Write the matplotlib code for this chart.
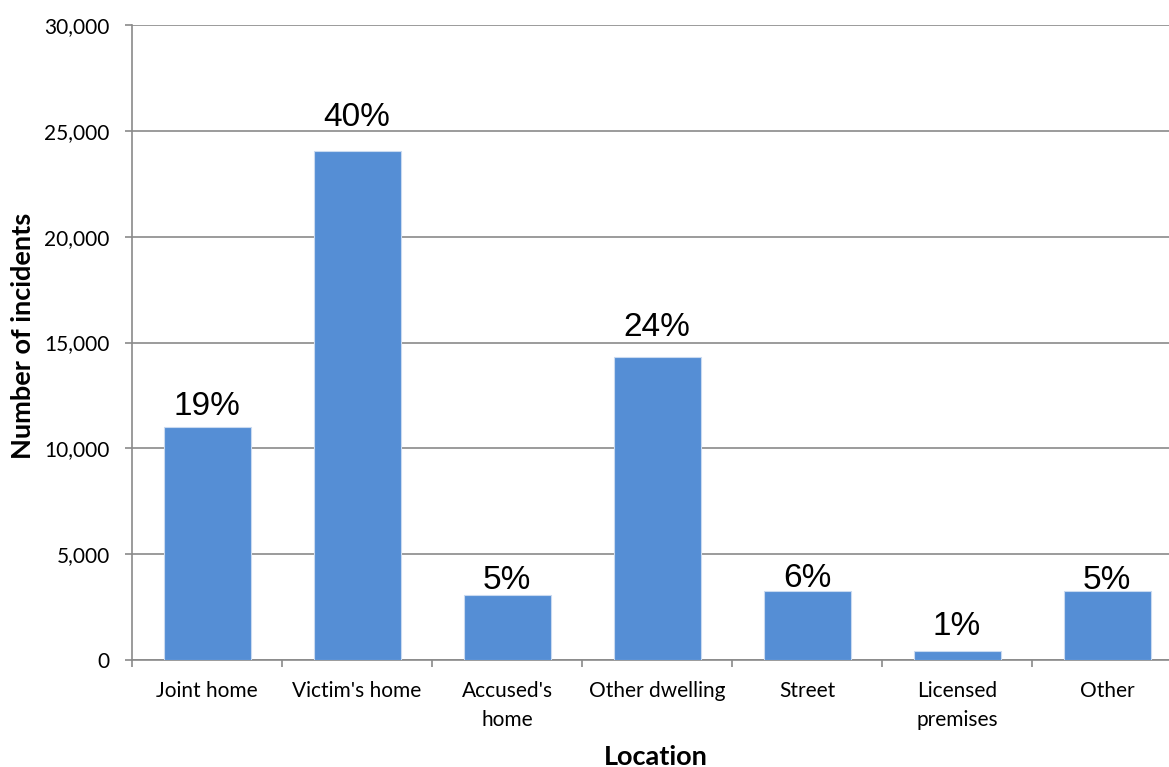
import matplotlib
matplotlib.use("Agg")
import matplotlib.pyplot as plt
from matplotlib.ticker import FuncFormatter, FixedLocator

# Incidents by location
locations = ["Joint home", "Victim's home", "Accused's\nhome", "Other dwelling",
             "Street", "Licensed\npremises", "Other"]
incidents = [11000, 24050, 3050, 14300, 3280, 430, 3260]
share_labels = ["19%", "40%", "5%", "24%", "6%", "1%", "5%"]
y_ticks = [0, 5000, 10000, 15000, 20000, 25000, 30000]

# gap (px) between each bar top and the baseline of its share label
label_gap_px = [12, 25, 6, 21, 4, 16, 2]

W, H = 1169, 767
fig = plt.figure(figsize=(W / 100, H / 100), dpi=100)
left, right, top, bottom = 132, 1182, 25, 660
ax = fig.add_axes([left / W, 1 - bottom / H, (right - left) / W, (bottom - top) / H])

grid_col = "#8a8a8a"
bar_col = "#558ed5"
label_font = "Lato"

x = list(range(len(locations)))
ax.bar(x, incidents, width=0.58, color=bar_col, edgecolor="#c9daf0", linewidth=0.8, zorder=3)

for xi, val, txt, gap in zip(x, incidents, share_labels, label_gap_px):
    ax.annotate(txt, (xi, val), xytext=(0, gap * 72 / 100), textcoords="offset points",
                ha="center", va="baseline", fontsize=24, family="Liberation Sans",
                color="black", zorder=4)

ax.set_xlim(-0.5, len(locations) - 0.5)
ax.set_ylim(0, 30000)

ax.yaxis.set_major_locator(FixedLocator(y_ticks))
ax.yaxis.set_major_formatter(FuncFormatter(lambda v, p: f"{int(v):,}"))
ax.grid(axis="y", color=grid_col, linewidth=1.2, zorder=0)

# category labels sit between boundary tick marks
ax.set_xticks(x)
ax.set_xticklabels(locations, fontsize=15, family=label_font, linespacing=1.55)
ax.set_xticks([i - 0.5 for i in range(len(locations) + 1)], minor=True)
ax.tick_params(axis="x", which="major", length=0, pad=15)
ax.tick_params(axis="x", which="minor", length=5, width=1.2, color=grid_col, direction="out")
ax.tick_params(axis="y", length=5, width=1.2, color=grid_col, direction="out",
               pad=11, labelsize=15)
for lbl in ax.get_yticklabels():
    lbl.set_family(label_font)

for side in ["top", "right"]:
    ax.spines[side].set_visible(False)
for side in ["left", "bottom"]:
    ax.spines[side].set_color(grid_col)
    ax.spines[side].set_linewidth(1.2)

ax.set_ylabel("Number of incidents", fontsize=19.5, fontweight="bold",
              family=label_font, va="center")
ax.yaxis.set_label_coords((23 - left) / (right - left), (bottom - 336) / (bottom - top))
ax.set_xlabel("Location", fontsize=19.5, fontweight="bold", family=label_font, va="center")
ax.xaxis.set_label_coords((656 - left) / (right - left), (bottom - 757) / (bottom - top))

fig.savefig("out.png", dpi=100)
